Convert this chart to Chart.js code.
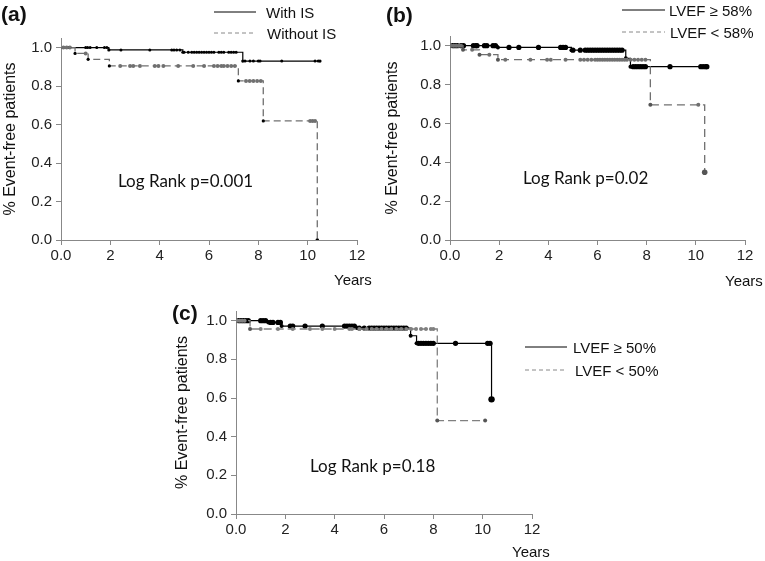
<!DOCTYPE html>
<html lang="en">
<head>
<meta charset="UTF-8">
<title>Event-free survival</title>
<script src="https://cdn.jsdelivr.net/npm/chart.js"></script>
<style>
  body { margin: 0; background: #fff; }
  #page { position: relative; width: 765px; height: 561px; overflow: hidden; }
  canvas { position: absolute; }
  .lbl { position: absolute; white-space: nowrap; transform: translateY(-50%); color: #111; }
  .panel { font-family: Arial, 'Liberation Sans', sans-serif; font-weight: bold; font-size: 21px; }
  .leg { font-family: Arial, 'Liberation Sans', sans-serif; font-size: 15px; }
  .yrs { font-family: Arial, 'Liberation Sans', sans-serif; font-size: 15px; }
  .lr { font-family: Lato, 'Open Sans', sans-serif; font-size: 17px; }
  svg.sample { position: absolute; }
</style>
</head>
<body>
<div id="page">
  <canvas id="chartA" width="380" height="280" style="left:0;top:0"></canvas>
  <canvas id="chartB" width="385" height="280" style="left:380px;top:0"></canvas>
  <canvas id="chartC" width="400" height="281" style="left:170px;top:280px"></canvas>

  <!-- panel letters -->
  <div class="lbl panel" style="left:1px;top:14px">(a)</div>
  <div class="lbl panel" style="left:386px;top:15px">(b)</div>
  <div class="lbl panel" style="left:172px;top:313px">(c)</div>

  <!-- legends -->
  <svg class="sample" style="left:214px;top:6px" width="44" height="34">
    <line x1="0" y1="6" x2="42" y2="6" stroke="#000" stroke-width="1"/>
    <line x1="0" y1="27" x2="42" y2="27" stroke="#888" stroke-width="1" stroke-dasharray="4,3"/>
  </svg>
  <div class="lbl leg" style="left:266px;top:12px">With IS</div>
  <div class="lbl leg" style="left:267px;top:33px">Without IS</div>

  <svg class="sample" style="left:622px;top:4px" width="44" height="34">
    <line x1="0" y1="6" x2="43" y2="6" stroke="#000" stroke-width="1"/>
    <line x1="0" y1="28" x2="43" y2="28" stroke="#888" stroke-width="1" stroke-dasharray="4,3"/>
  </svg>
  <div class="lbl leg" style="left:669px;top:10px">LVEF ≥ 58%</div>
  <div class="lbl leg" style="left:670px;top:32px">LVEF &lt; 58%</div>

  <svg class="sample" style="left:525px;top:340px" width="44" height="36">
    <line x1="0" y1="7" x2="42" y2="7" stroke="#000" stroke-width="1"/>
    <line x1="0" y1="30" x2="42" y2="30" stroke="#888" stroke-width="1" stroke-dasharray="4,3"/>
  </svg>
  <div class="lbl leg" style="left:573px;top:347px">LVEF ≥ 50%</div>
  <div class="lbl leg" style="left:575px;top:370px">LVEF &lt; 50%</div>

  <!-- x-axis names -->
  <div class="lbl yrs" style="left:334px;top:279px">Years</div>
  <div class="lbl yrs" style="left:725px;top:280px">Years</div>
  <div class="lbl yrs" style="left:512px;top:551px">Years</div>

  <!-- log rank -->
  <div class="lbl lr" style="left:118px;top:180px">Log Rank p=0.001</div>
  <div class="lbl lr" style="left:523px;top:177px">Log Rank p=0.02</div>
  <div class="lbl lr" style="left:310px;top:465px">Log Rank p=0.18</div>
</div>

<script>
// axis ticks
const xTicks = [0, 2, 4, 6, 8, 10, 12];
const yTicks = [0, 0.2, 0.4, 0.6, 0.8, 1.0];

// (a) with / without IS : event times and survival after each event
const aWithT = [0, 1.94, 4.94, 7.37, 10.5];
const aWithS = [1, 0.988, 0.976, 0.93, 0.93];
const aWithCens = [0.12, 0.3, 1.0, 1.08, 1.18, 1.45, 1.76, 1.86, 2.43, 3.6, 4.49, 4.58, 4.69, 4.82,
  4.99, 5.16, 5.3, 5.4, 5.5, 5.6, 5.7, 5.8, 5.9, 6.0, 6.1, 6.2, 6.4, 6.5, 6.6, 6.8, 6.9, 7.0, 7.1,
  7.46, 7.66, 7.8, 8.0, 8.07, 8.95, 10.3, 10.43];
const aWithoutT = [0, 0.57, 1.1, 1.96, 7.19, 8.2, 10.39];
const aWithoutS = [1, 0.97, 0.939, 0.905, 0.827, 0.619, 0];
const aWithoutCens = [0.1, 0.23, 0.36, 1.0, 2.4, 2.8, 2.93, 3.2, 3.8, 3.95, 4.15, 4.75, 5.36, 5.8,
  6.2, 6.35, 6.5, 6.6, 6.75, 6.9, 7.05, 7.5, 7.65, 7.8, 7.95, 8.1, 10.1, 10.2, 10.3];

// (b) LVEF >= 58% / < 58%
const bHiT = [0, 1.95, 4.94, 7.15, 7.34, 10.45];
const bHiS = [1, 0.991, 0.977, 0.935, 0.892, 0.892];
const bHiCens = [0.1, 0.2, 0.3, 0.45, 0.55, 0.95, 1.05, 1.1, 1.4, 1.5, 1.75, 1.85, 2.4, 2.8, 3.6,
  4.5, 4.6, 4.7, 5.0, 5.3, 5.5, 5.6, 5.7, 5.8, 5.9, 6.0, 6.1, 6.2, 6.3, 6.4, 6.5, 6.6, 6.7, 6.8,
  6.9, 7.0, 7.45, 7.55, 7.65, 7.75, 7.85, 7.95, 8.95, 10.2, 10.3, 10.4];
const bLoT = [0, 0.53, 1.2, 1.95, 8.15, 10.36];
const bLoS = [1, 0.979, 0.954, 0.928, 0.696, 0.349];
const bLoCens = [0.05, 0.15, 0.25, 0.35, 0.45, 0.9, 1.6, 2.25, 3.27, 3.95, 4.1, 4.7, 5.3, 5.45,
  5.6, 5.75, 5.9, 6.0, 6.1, 6.2, 6.3, 6.4, 6.5, 6.6, 6.7, 6.8, 6.9, 7.0, 7.1, 7.2, 7.35, 7.5,
  7.65, 7.8, 7.95, 10.1];

// (c) LVEF >= 50% / < 50%
const cHiT = [0, 1.31, 1.85, 4.9, 7.08, 7.32, 10.36];
const cHiS = [1, 0.991, 0.972, 0.962, 0.922, 0.883, 0.593];
const cHiCens = [0.1, 0.2, 0.3, 0.4, 0.5, 1.0, 1.1, 1.2, 1.4, 1.5, 1.7, 1.8, 2.2, 2.3, 2.8, 3.5,
  4.4, 4.5, 4.6, 4.7, 4.8, 5.0, 5.2, 5.4, 5.5, 5.6, 5.7, 5.8, 5.9, 6.0, 6.1, 6.2, 6.3, 6.4, 6.5,
  6.6, 6.7, 6.8, 6.9, 7.4, 7.5, 7.6, 7.7, 7.8, 7.9, 8.0, 8.9, 10.2, 10.3];
const cLoT = [0, 0.57, 8.16, 10.1];
const cLoS = [1, 0.957, 0.483, 0.483];
const cLoCens = [0.05, 0.15, 0.25, 0.35, 1.0, 1.7, 2.3, 3.0, 3.5, 4.0, 4.6, 4.7, 5.0, 5.3, 5.5,
  5.7, 5.9, 6.1, 6.3, 6.5, 6.7, 6.9, 7.1, 7.3, 7.5, 7.7, 7.9, 8.0];

Chart.defaults.font.family = "Arial, 'Liberation Sans', sans-serif";
Chart.defaults.color = '#222';

function pts(T, S) {
  return T.map((t, i) => ({ x: t, y: S[i] }));
}
// survival level at time t (for placing censor marks on the curve)
function levelAt(T, S, t) {
  let v = S[0];
  for (let i = 0; i < T.length; i++) if (T[i] <= t) v = S[i];
  return v;
}
function censPts(T, S, C) {
  return C.map(t => ({ x: t, y: levelAt(T, S, t) }));
}

function makePanel(id, cfg) {
  const solid = '#000';
  const grey = cfg.grey;
  // step corner dots; the last one (end of curve) a bit larger
  const stepRadius = (T, endR) => ctx =>
    ctx.dataIndex === 0 ? 0 : (ctx.dataIndex === T.length - 1 ? endR : cfg.stepR);
  new Chart(document.getElementById(id), {
    type: 'scatter',
    data: {
      datasets: [
        {
          data: pts(cfg.loT, cfg.loS), showLine: true, stepped: 'before',
          borderColor: grey, borderWidth: 1.3, borderDash: cfg.dash,
          pointRadius: stepRadius(cfg.loT, cfg.endLo),
          pointBackgroundColor: cfg.stepCol, pointBorderWidth: 0
        },
        {
          data: censPts(cfg.loT, cfg.loS, cfg.loC), showLine: false,
          pointRadius: cfg.loR, pointBackgroundColor: grey, pointBorderWidth: 0
        },
        {
          data: pts(cfg.hiT, cfg.hiS), showLine: true, stepped: 'before',
          borderColor: solid, borderWidth: 1.2,
          pointRadius: stepRadius(cfg.hiT, cfg.endHi),
          pointBackgroundColor: solid, pointBorderWidth: 0
        },
        {
          data: censPts(cfg.hiT, cfg.hiS, cfg.hiC), showLine: false,
          pointRadius: cfg.hiR, pointBackgroundColor: solid, pointBorderWidth: 0
        }
      ]
    },
    options: {
      responsive: false,
      animation: false,
      layout: { padding: cfg.pad },
      plugins: { legend: { display: false }, tooltip: { enabled: false } },
      scales: {
        x: {
          type: 'linear', min: 0, max: 12,
          afterBuildTicks: s => { s.ticks = xTicks.map(v => ({ value: v })); },
          ticks: { font: { size: 15 }, padding: 2, callback: v => v === 0 ? '0.0' : String(v) },
          grid: { drawOnChartArea: false, drawTicks: true, tickLength: 5, color: '#888' },
          border: { color: '#888' },
          afterFit: s => { s.height = 30; }
        },
        y: {
          min: 0, max: 1.05,
          afterBuildTicks: s => { s.ticks = yTicks.map(v => ({ value: v })); },
          ticks: { font: { size: 15 }, padding: 4, callback: v => v.toFixed(1) },
          grid: { drawOnChartArea: false, drawTicks: true, tickLength: 5, color: '#888' },
          border: { color: '#888' },
          title: { display: true, text: '% Event-free patients', font: { size: 16 }, color: '#111',
                   padding: { top: cfg.titlePad, bottom: 0 } },
          afterFit: s => { s.width = cfg.yw; }
        }
      }
    }
  });
}

makePanel('chartA', {
  hiT: aWithT, hiS: aWithS, hiC: aWithCens,
  loT: aWithoutT, loS: aWithoutS, loC: aWithoutCens,
  grey: '#707070', dash: [7, 4], stepR: 1.6, stepCol: '#000', hiR: 1.5, loR: 2, endLo: 1.8, endHi: 1.6,
  pad: { top: 38, left: 0, right: 23, bottom: 10 }, yw: 61, titlePad: 1
});
makePanel('chartB', {
  hiT: bHiT, hiS: bHiS, hiC: bHiCens,
  loT: bLoT, loS: bLoS, loC: bLoCens,
  grey: '#707070', dash: [8, 5], stepR: 2, stepCol: '#555', hiR: 2.6, loR: 2, endLo: 2.8, endHi: 2.6,
  pad: { top: 36, left: 0, right: 20, bottom: 10 }, yw: 70, titlePad: 3
});
makePanel('chartC', {
  hiT: cHiT, hiS: cHiS, hiC: cHiCens,
  loT: cLoT, loS: cLoS, loC: cLoCens,
  grey: '#808080', dash: [8, 4], stepR: 2, stepCol: '#555', hiR: 2.6, loR: 2, endLo: 2, endHi: 3.2,
  pad: { top: 31, left: 0, right: 38, bottom: 17 }, yw: 66, titlePad: 3
});
</script>
</body>
</html>
